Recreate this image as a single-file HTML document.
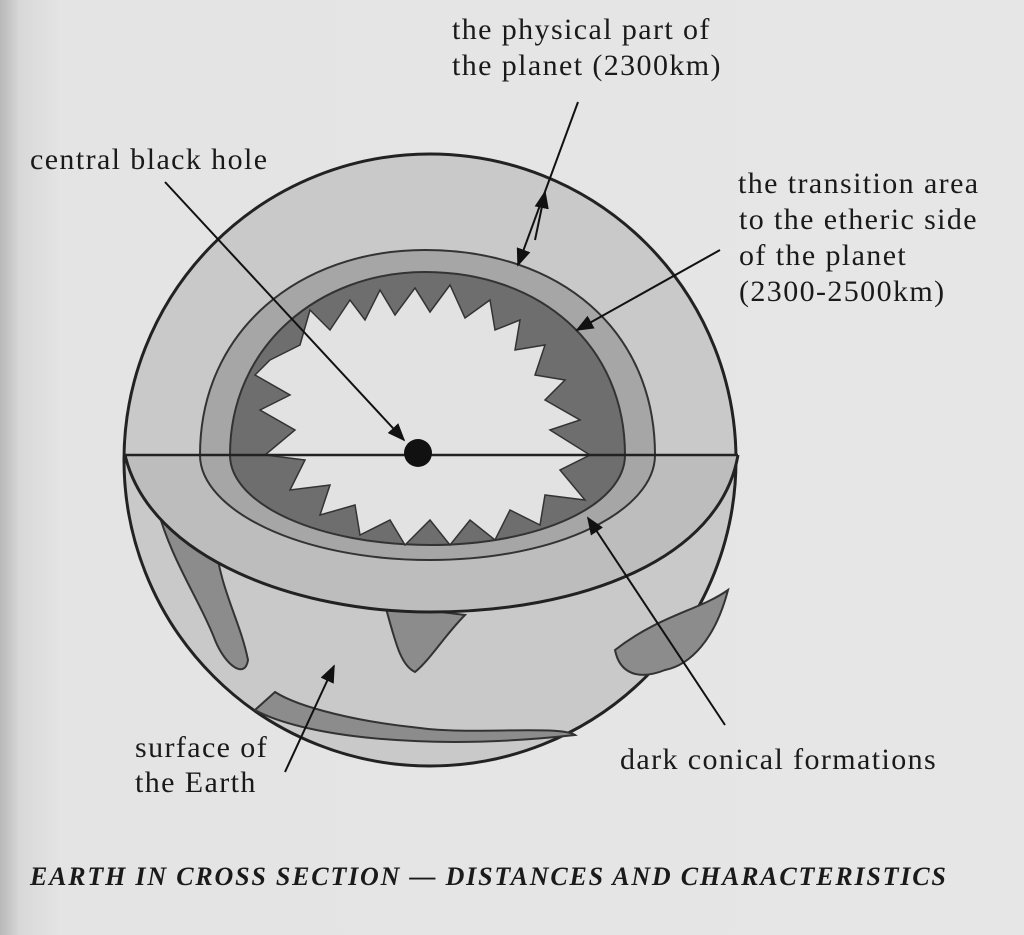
<!DOCTYPE html>
<html><head><meta charset="utf-8"><style>
html,body{margin:0;padding:0;}
body{width:1024px;height:935px;overflow:hidden;background:linear-gradient(90deg,#b8b8b8 0px,#d8d8d8 20px,#e4e4e4 60px,#e6e6e6 100%);position:relative;font-family:"Liberation Serif",serif;}
.t{position:absolute;font-size:30px;letter-spacing:1.4px;color:#1a1a1a;line-height:36px;white-space:nowrap;}
.cap{position:absolute;left:30px;top:862px;font-size:26px;font-weight:bold;font-style:italic;color:#1a1a1a;white-space:nowrap;letter-spacing:1.8px;}
svg{position:absolute;left:0;top:0;}
</style></head><body>
<svg width="1024" height="935" viewBox="0 0 1024 935">
<defs>
<marker id="a" viewBox="0 0 10 10" refX="9" refY="5" markerWidth="9" markerHeight="9" orient="auto-start-reverse"><path d="M0,1 L10,5 L0,9 z" fill="#111"/></marker>
</defs>
<circle cx="430" cy="460" r="306" fill="#c9c9c9" stroke="#222" stroke-width="3"/>
<path d="M155,500 C170,560 200,600 215,640 C225,665 245,680 248,660 C240,620 220,590 215,540 Z" fill="#8c8c8c" stroke="#333" stroke-width="2"/>
<path d="M385,605 C395,640 400,665 415,672 C430,660 445,635 465,615 Z" fill="#8c8c8c" stroke="#333" stroke-width="2"/>
<path d="M615,650 C620,675 640,680 665,670 C690,665 715,640 728,590 C700,610 660,615 615,650 Z" fill="#8c8c8c" stroke="#333" stroke-width="2"/>
<path d="M255,710 C300,735 420,752 575,735 C560,725 470,735 420,728 C360,722 300,708 275,692 Z" fill="#8c8c8c" stroke="#333" stroke-width="2"/>
<path d="M125,455 C150,560 300,612 430,612 C580,612 720,560 738,455" fill="#bdbdbd" stroke="#222" stroke-width="3"/>
<path d="M200,455 C200,330 300,250 425,250 C560,250 655,330 655,455 C655,510 560,560 430,560 C300,560 200,510 200,455 Z" fill="#a6a6a6" stroke="#333" stroke-width="2"/>
<path d="M230,455 C230,345 320,272 425,272 C540,272 625,345 625,455 C625,505 540,545 430,545 C320,545 230,505 230,455 Z" fill="#6e6e6e" stroke="#333" stroke-width="2"/>
<path d="M270,360 L300,345 L310,310 L330,330 L350,300 L365,320 L380,290 L395,315 L415,288 L430,312 L450,285 L465,318 L490,300 L495,330 L520,320 L515,350 L545,345 L535,375 L565,380 L545,400 L580,420 L550,430 L590,455 L560,470 L585,500 L545,495 L540,525 L510,510 L495,540 L470,520 L450,545 L430,520 L405,545 L390,520 L360,535 L355,505 L320,515 L330,485 L290,490 L305,460 L265,455 L295,430 L260,410 L290,395 L255,375 Z" fill="#e2e2e2" stroke="#333" stroke-width="1.5"/>
<line x1="125" y1="455" x2="738" y2="455" stroke="#222" stroke-width="2.5"/>
<circle cx="418" cy="453" r="14" fill="#111"/>
<g stroke="#111" stroke-width="2" fill="none">
<line x1="165" y1="182" x2="404" y2="440" marker-end="url(#a)"/>
<line x1="578" y1="102" x2="518" y2="265" marker-end="url(#a)"/>
<line x1="535" y1="240" x2="545" y2="192" marker-end="url(#a)"/>
<line x1="720" y1="250" x2="577" y2="330" marker-end="url(#a)"/>
<line x1="725" y1="725" x2="588" y2="518" marker-end="url(#a)"/>
<line x1="285" y1="772" x2="334" y2="666" marker-end="url(#a)"/>
</g>
</svg>
<div class="t" style="left:452px;top:12px">the physical part of</div>
<div class="t" style="left:452px;top:48px">the planet (2300km)</div>
<div class="t" style="left:30px;top:142px">central black hole</div>
<div class="t" style="left:738px;top:166px">the transition area</div>
<div class="t" style="left:739px;top:202px">to the etheric side</div>
<div class="t" style="left:739px;top:238px">of the planet</div>
<div class="t" style="left:739px;top:274px">(2300-2500km)</div>
<div class="t" style="left:135px;top:730px">surface of</div>
<div class="t" style="left:135px;top:765px">the Earth</div>
<div class="t" style="left:620px;top:742px">dark conical formations</div>
<div class="cap">EARTH IN CROSS SECTION — DISTANCES AND CHARACTERISTICS</div>
</body></html>
